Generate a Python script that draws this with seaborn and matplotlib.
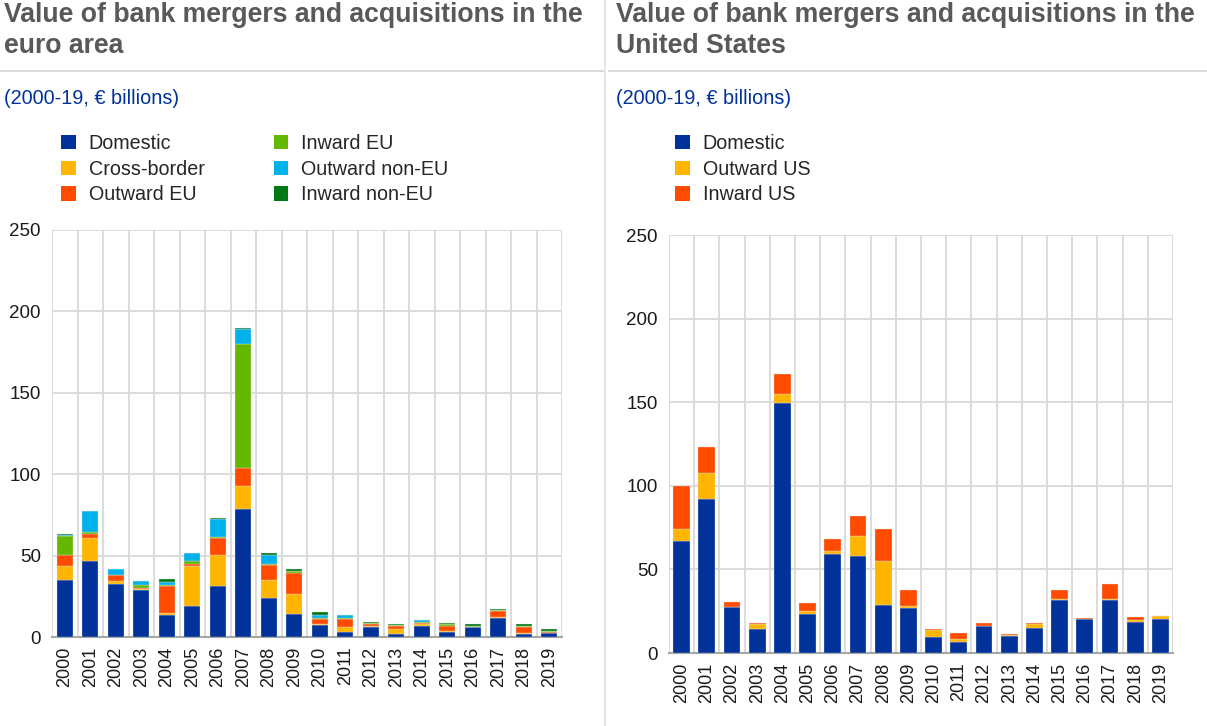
import numpy as np
import pandas as pd
import matplotlib
matplotlib.use("Agg")
import matplotlib.pyplot as plt
import seaborn as sns
from matplotlib.patches import Patch
from matplotlib.lines import Line2D

# ---------------- data ----------------
years = [str(y) for y in range(2000, 2020)]

# Euro area (EUR billions)
ea_domestic      = [35.2, 46.5, 32.8, 28.7, 13.7, 18.8, 31.1, 78.8, 24.0, 14.1, 7.6, 3.3, 6.3, 1.6, 6.8, 2.9, 5.9, 11.7, 1.8, 2.3]
ea_cross_border  = [8.6, 14.1, 1.6, 0.8, 0.8, 25.0, 19.5, 14.0, 10.8, 12.5, 0.6, 2.8, 0.3, 3.5, 1.0, 0.6, 0.0, 0.6, 0.9, 0.3]
ea_outward_eu    = [6.4, 2.9, 3.7, 0.8, 16.6, 1.2, 10.4, 10.8, 9.4, 12.7, 3.1, 5.2, 1.4, 1.5, 1.0, 3.3, 0.2, 3.5, 3.4, 0.3]
ea_inward_eu     = [12.0, 1.0, 0.2, 1.8, 0.9, 1.5, 0.4, 76.6, 0.4, 1.0, 0.6, 0.2, 0.6, 1.0, 0.4, 1.0, 0.9, 0.8, 0.7, 0.8]
ea_outward_noneu = [0.7, 12.7, 3.5, 2.1, 2.0, 4.9, 11.1, 9.0, 5.8, 0.0, 1.8, 1.8, 0.2, 0.0, 1.0, 0.0, 0.0, 0.0, 0.0, 0.0]
ea_inward_noneu  = [0.3, 0.2, 0.2, 0.2, 1.4, 0.2, 0.6, 0.6, 1.2, 1.5, 1.9, 0.3, 0.6, 0.2, 0.2, 0.8, 0.8, 0.6, 1.4, 1.0]

# United States (EUR billions)
us_domestic = [67.1, 92.0, 27.3, 14.3, 149.8, 23.3, 59.4, 58.2, 28.9, 26.9, 9.6, 6.8, 15.9, 10.4, 14.8, 31.4, 20.3, 31.5, 18.5, 20.3]
us_outward  = [7.2, 15.6, 0.4, 2.8, 5.4, 2.0, 1.8, 11.5, 25.9, 1.0, 4.1, 1.6, 0.4, 0.6, 2.7, 0.7, 0.1, 0.8, 1.4, 1.6]
us_inward   = [25.3, 15.5, 3.0, 1.0, 11.9, 4.8, 6.7, 12.4, 19.3, 9.9, 0.6, 3.6, 1.4, 0.4, 0.2, 5.4, 0.5, 8.7, 1.6, 0.1]

ea_labels = ["Domestic", "Cross-border", "Outward EU", "Inward EU", "Outward non-EU", "Inward non-EU"]
us_labels = ["Domestic", "Outward US", "Inward US"]

y_ticks = [0, 50, 100, 150, 200, 250]

# ---------------- style ----------------
C_DOM = "#003299"
C_CB = "#FFB400"
C_OEU = "#FF4B00"
C_IEU = "#65B800"
C_ONEU = "#00B1EA"
C_INEU = "#007816"
ea_colors = [C_DOM, C_CB, C_OEU, C_IEU, C_ONEU, C_INEU]
us_colors = [C_DOM, C_CB, C_OEU]

sns.set_style("white")
plt.rcParams["font.family"] = ["Liberation Sans", "DejaVu Sans"]

W, H = 1207, 726
fig = plt.figure(figsize=(W / 100, H / 100), dpi=100)

def fx(px):
    return px / W

def fy(py):
    return 1 - py / H

GRID = "#d9d9d9"
TITLE_C = "#595959"
SUB_C = "#003299"


def stacked(ax, series, colors, width):
    bottom = np.zeros(len(years))
    for vals, col in zip(series, colors):
        vals = np.asarray(vals, dtype=float)
        sns.barplot(x=years, y=vals, order=years, bottom=bottom, color=col,
                    width=width, edgecolor="#e4e4e4", linewidth=0.25,
                    saturation=1, errorbar=None, ax=ax, zorder=3)
        bottom = bottom + vals


def style_axes(ax):
    ax.set_xlim(-0.5, len(years) - 0.5)
    ax.set_ylim(0, 250)
    ax.set_yticks(y_ticks)
    ax.set_yticklabels([str(t) for t in y_ticks], fontsize=13.5, color="#1a1a1a")
    ax.set_xticks(range(len(years)))
    ax.set_xticklabels(years, rotation=90, fontsize=13, color="#1a1a1a")
    ax.set_xticks(np.arange(-0.5, len(years), 1.0), minor=True)
    ax.tick_params(axis="x", which="major", length=0, pad=7)
    ax.tick_params(axis="x", which="minor", length=5, width=1.5, color="#a6a6a6", direction="out")
    ax.tick_params(axis="y", length=0, pad=8)
    ax.set_axisbelow(True)
    ax.grid(False)
    ax.yaxis.grid(True, color=GRID, linewidth=1.3)
    ax.xaxis.grid(True, which="minor", color=GRID, linewidth=1.3)
    for s in ["top", "right", "left"]:
        ax.spines[s].set_visible(False)
    ax.spines["bottom"].set_color("#a6a6a6")
    ax.spines["bottom"].set_linewidth(1.5)
    ax.set_xlabel("")
    ax.set_ylabel("")


# ---------------- left: euro area ----------------
ax1 = fig.add_axes([fx(52), fy(637), fx(562 - 52), (637 - 230) / H])
stacked(ax1, [ea_domestic, ea_cross_border, ea_outward_eu, ea_inward_eu,
              ea_outward_noneu, ea_inward_noneu], ea_colors, 0.63)
style_axes(ax1)

# ---------------- right: United States ----------------
ax2 = fig.add_axes([fx(669), fy(653), fx(1173 - 669), (653 - 235) / H])
stacked(ax2, [us_domestic, us_outward, us_inward], us_colors, 0.66)
style_axes(ax2)

# ---------------- titles / separators ----------------
fig.text(fx(4), fy(2), "Value of bank mergers and acquisitions in the\neuro area",
         ha="left", va="top", fontsize=19.2, fontweight="bold", color=TITLE_C, linespacing=1.25)
fig.text(fx(616), fy(2), "Value of bank mergers and acquisitions in the\nUnited States",
         ha="left", va="top", fontsize=19.2, fontweight="bold", color=TITLE_C, linespacing=1.25)

fig.add_artist(Line2D([0, fx(603)], [fy(71), fy(71)], color=GRID, linewidth=1.5))
fig.add_artist(Line2D([fx(609), 1], [fy(71), fy(71)], color=GRID, linewidth=1.5))
fig.add_artist(Line2D([fx(605), fx(605)], [0, 1], color="#e6e6e6", linewidth=1.5))

fig.text(fx(4), fy(99), "(2000-19, € billions)", ha="left", va="center", fontsize=14.3, color=SUB_C)
fig.text(fx(616), fy(99), "(2000-19, € billions)", ha="left", va="center", fontsize=14.3, color=SUB_C)

# ---------------- legends ----------------
ea_handles = [Patch(facecolor=c, edgecolor="none") for c in ea_colors]
leg1 = fig.legend(ea_handles, ea_labels, ncol=2, loc="upper left",
                  bbox_to_anchor=(fx(61), fy(134)), frameon=False, fontsize=14.2,
                  handlelength=0.75, handleheight=0.75, handletextpad=0.65,
                  labelspacing=0.34, columnspacing=3.5, borderaxespad=0, borderpad=0)
us_handles = [Patch(facecolor=c, edgecolor="none") for c in us_colors]
leg2 = fig.legend(us_handles, us_labels, ncol=1, loc="upper left",
                  bbox_to_anchor=(fx(675), fy(134)), frameon=False, fontsize=14.2,
                  handlelength=0.75, handleheight=0.75, handletextpad=0.65,
                  labelspacing=0.34, borderaxespad=0, borderpad=0)

fig.savefig("out.png", dpi=100)
